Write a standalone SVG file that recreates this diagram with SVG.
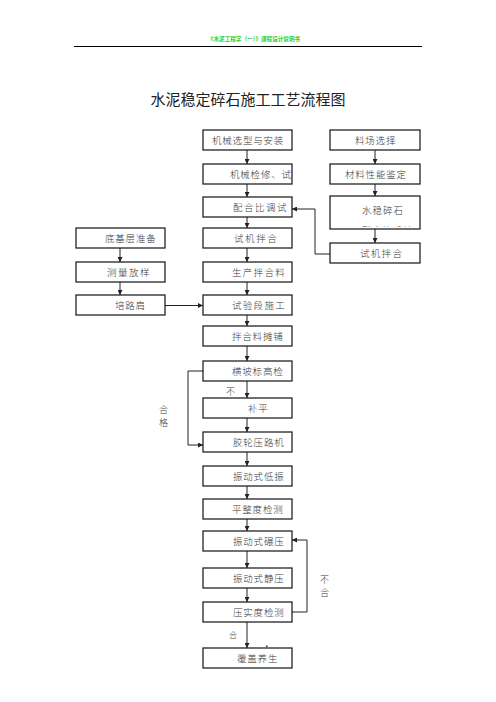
<svg xmlns="http://www.w3.org/2000/svg" width="496" height="702" viewBox="0 0 496 702">
<defs>
<style>
.b{fill:#fff;stroke:#111;stroke-width:1.2}
.t{font-family:"Noto Sans CJK SC","Noto Sans",sans-serif;font-size:9.5px;fill:#3a3a3a;letter-spacing:0.8px;font-weight:300}
.c{fill:none;stroke:#222;stroke-width:1}
.s{font-family:"Noto Sans CJK SC","Noto Sans",sans-serif;font-size:9px;fill:#3a3a3a;font-weight:300}
</style>
<marker id="a" viewBox="0 0 6 6" refX="6" refY="3" markerWidth="6" markerHeight="5" markerUnits="userSpaceOnUse" orient="auto">
<path d="M0,0 L6,3 L0,6 z" fill="#222"/>
</marker>
<clipPath id="clip"><rect x="331" y="196" width="88" height="31"/></clipPath>
</defs>
<rect width="496" height="702" fill="#fff"/>
<text x="254" y="41" text-anchor="middle" font-family="'Noto Sans CJK SC',sans-serif" font-size="5.6" font-weight="bold" fill="#1fd01f">《水泥工程学（一）》课程设计说明书</text>
<line x1="74" y1="46.5" x2="422" y2="46.5" stroke="#000" stroke-width="1"/>
<text x="248" y="105" text-anchor="middle" font-family="'Noto Sans CJK SC',sans-serif" font-size="15" fill="#222">水泥稳定碎石施工工艺流程图</text>

<g id="connectors">
<path class="c" marker-end="url(#a)" d="M247,150V164"/>
<path class="c" marker-end="url(#a)" d="M247,184V197"/>
<path class="c" marker-end="url(#a)" d="M247,217V228"/>
<path class="c" marker-end="url(#a)" d="M247,248V262"/>
<path class="c" marker-end="url(#a)" d="M247,282V295"/>
<path class="c" marker-end="url(#a)" d="M247,315V326"/>
<path class="c" marker-end="url(#a)" d="M247,346V361"/>
<path class="c" marker-end="url(#a)" d="M247,381V398"/>
<path class="c" marker-end="url(#a)" d="M247,418V432"/>
<path class="c" marker-end="url(#a)" d="M247,452V466"/>
<path class="c" marker-end="url(#a)" d="M247,486V499"/>
<path class="c" marker-end="url(#a)" d="M247,519V531"/>
<path class="c" marker-end="url(#a)" d="M247,551V568"/>
<path class="c" marker-end="url(#a)" d="M247,588V602"/>
<path class="c" marker-end="url(#a)" d="M247,622V648"/>
<path class="c" marker-end="url(#a)" d="M375,150V164"/>
<path class="c" marker-end="url(#a)" d="M375,184V196"/>
<path class="c" marker-end="url(#a)" d="M375,229V243"/>
<path class="c" marker-end="url(#a)" d="M120,248V262"/>
<path class="c" marker-end="url(#a)" d="M120,282V295"/>
<path class="c" marker-end="url(#a)" d="M165,305.5H203"/>
<path class="c" marker-end="url(#a)" d="M330,254H315V209H292"/>
<path class="c" marker-end="url(#a)" d="M203,371H188V445H203"/>
<path class="c" marker-end="url(#a)" d="M292,612H307V540H292"/>
</g>

<g id="n1"><rect class="b" x="203" y="130" width="89" height="20"/><text class="t" x="212" y="144">机械选型与安装</text></g>
<g id="n2"><rect class="b" x="203" y="164" width="89" height="20"/><text class="t" x="230" y="178">机械检修、试</text></g>
<g id="n3"><rect class="b" x="203" y="197" width="89" height="20"/><text class="t" x="233" y="211" style="letter-spacing:1.5px">配合比调试</text></g>
<g id="n4"><rect class="b" x="203" y="228" width="89" height="20"/><text class="t" x="234" y="242" style="letter-spacing:1.6px">试机拌合</text></g>
<g id="n5"><rect class="b" x="203" y="262" width="89" height="20"/><text class="t" x="232" y="276" style="letter-spacing:1.3px">生产拌合料</text></g>
<g id="n6"><rect class="b" x="203" y="295" width="89" height="20"/><text class="t" x="232" y="309" style="letter-spacing:1.3px">试验段施工</text></g>
<g id="n7"><rect class="b" x="203" y="326" width="89" height="20"/><text class="t" x="232" y="340">拌合料摊铺</text></g>
<g id="n8"><rect class="b" x="203" y="361" width="89" height="20"/><text class="t" x="232" y="375">横坡标高检</text></g>
<g id="n9"><rect class="b" x="203" y="398" width="89" height="20"/><text class="t" x="248" y="412">补平</text></g>
<g id="n10"><rect class="b" x="203" y="432" width="89" height="20"/><text class="t" x="233" y="446">胶轮压路机</text></g>
<g id="n11"><rect class="b" x="203" y="466" width="89" height="20"/><text class="t" x="233" y="480">振动式低振</text></g>
<g id="n12"><rect class="b" x="203" y="499" width="89" height="20"/><text class="t" x="232" y="513">平整度检测</text></g>
<g id="n13"><rect class="b" x="203" y="531" width="89" height="20"/><text class="t" x="233" y="545">振动式碾压</text></g>
<g id="n14"><rect class="b" x="203" y="568" width="89" height="20"/><text class="t" x="233" y="582">振动式静压</text></g>
<g id="n15"><rect class="b" x="203" y="602" width="89" height="20"/><text class="t" x="233" y="616">压实度检测</text></g>
<g id="n16"><rect class="b" x="203" y="648" width="89" height="20"/><text class="t" x="237" y="662">覆盖养生</text></g>

<g id="r1"><rect class="b" x="330" y="130" width="90" height="20"/><text class="t" x="355" y="144">料场选择</text></g>
<g id="r2"><rect class="b" x="330" y="164" width="90" height="20"/><text class="t" x="345" y="178">材料性能鉴定</text></g>
<g id="r3"><rect class="b" x="330" y="196" width="90" height="33"/><text class="t" x="362" y="214" style="letter-spacing:1px">水稳碎石</text><text class="t" x="362" y="234" clip-path="url(#clip)">配合比设计</text></g>
<g id="r4"><rect class="b" x="330" y="243" width="90" height="20"/><text class="t" x="360" y="257" style="letter-spacing:1.3px">试机拌合</text></g>

<g id="l1"><rect class="b" x="76" y="228" width="89" height="20"/><text class="t" x="105" y="242">底基层准备</text></g>
<g id="l2"><rect class="b" x="76" y="262" width="89" height="20"/><text class="t" x="107" y="276" style="letter-spacing:1.5px">测量放样</text></g>
<g id="l3"><rect class="b" x="76" y="295" width="89" height="20"/><text class="t" x="115" y="309">培路肩</text></g>

<text class="s" x="226" y="395">不</text>
<text class="s" x="159" y="413">合</text>
<text class="s" x="159" y="426">格</text>
<text class="s" x="320" y="583">不</text>
<text class="s" x="320" y="596">合</text>
<text class="s" x="229" y="638" style="font-size:8px">合</text>
<rect x="266" y="645.5" width="1.5" height="1.5" fill="#333"/>
</svg>
